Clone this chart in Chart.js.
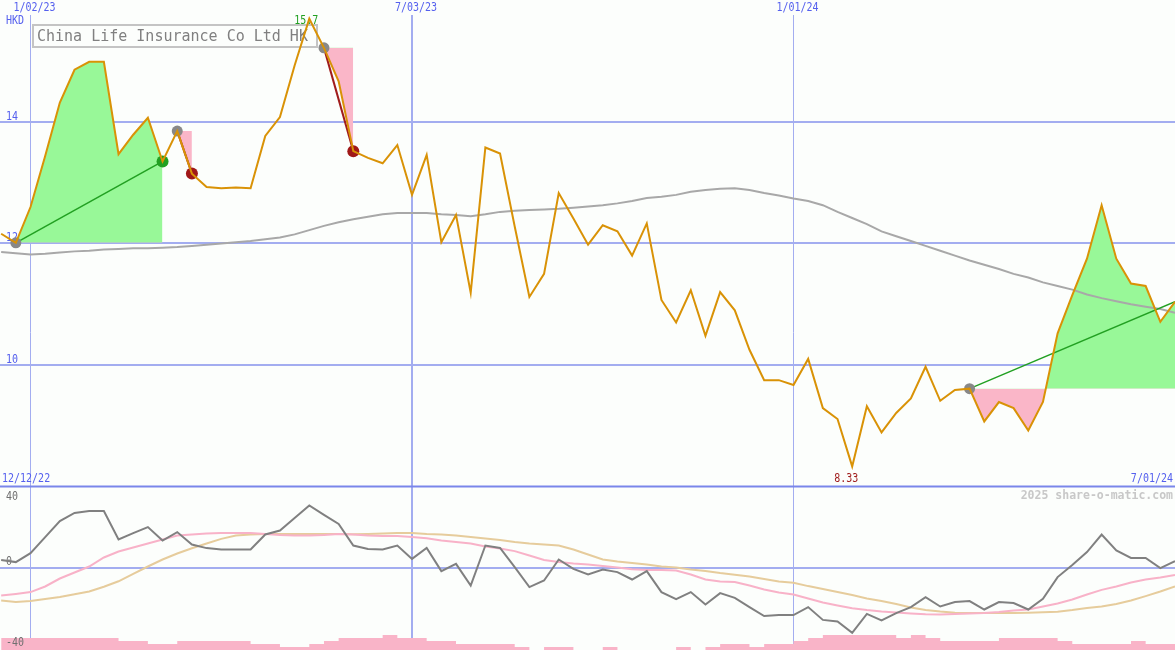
<!DOCTYPE html>
<html>
<head>
<meta charset="utf-8">
<title>China Life Insurance Co Ltd HK</title>
<script src="https://cdn.jsdelivr.net/npm/chart.js@4.4.0/dist/chart.umd.min.js"></script>
<style>
  html, body { margin: 0; padding: 0; background: #fcfefc; overflow: hidden; }
  #box { position: relative; width: 1175px; height: 650px; }
</style>
</head>
<body>
<div id="box"><canvas id="myChart" width="1175" height="650"></canvas></div>
<script>
// weekly data, weeks counted from 2 Jan 2023 (first point is week -2)
var firstWeek = -2;

// closing price, HKD
var price = [12.16, 12.01, 12.60, 13.44, 14.32, 14.86, 14.99, 14.99, 13.47, 13.79,
  14.07, 13.35, 13.85, 13.15, 12.93, 12.91, 12.92, 12.91, 13.77, 14.08,
  14.93, 15.70, 15.22, 14.67, 13.52, 13.41, 13.32, 13.62, 12.80, 13.46,
  12.02, 12.47, 11.19, 13.58, 13.48, 12.28, 11.12, 11.50, 12.83, 12.41,
  11.98, 12.30, 12.20, 11.80, 12.33, 11.07, 10.70, 11.23, 10.48, 11.20,
  10.90, 10.25, 9.75, 9.75, 9.67, 10.10, 9.29, 9.11, 8.33, 9.32,
  8.89, 9.21, 9.45, 9.97, 9.41, 9.59, 9.61, 9.07, 9.39, 9.29,
  8.92, 9.39, 10.52, 11.15, 11.75, 12.63, 11.75, 11.34, 11.30, 10.71,
  11.04];

// moving average (grey)
var movAvg = [11.86, 11.84, 11.82, 11.83, 11.85, 11.87, 11.88, 11.90, 11.91, 11.92,
  11.92, 11.93, 11.94, 11.96, 11.98, 12.00, 12.02, 12.04, 12.07, 12.10,
  12.15, 12.22, 12.29, 12.35, 12.40, 12.44, 12.48, 12.50, 12.50, 12.50,
  12.48, 12.47, 12.45, 12.48, 12.52, 12.54, 12.55, 12.56, 12.57, 12.59,
  12.61, 12.63, 12.66, 12.70, 12.75, 12.77, 12.80, 12.85, 12.88, 12.90,
  12.91, 12.88, 12.83, 12.79, 12.74, 12.70, 12.63, 12.52, 12.42, 12.32,
  12.20, 12.12, 12.04, 11.96, 11.88, 11.80, 11.72, 11.65, 11.58, 11.50,
  11.44, 11.36, 11.30, 11.24, 11.16, 11.10, 11.05, 11.00, 10.96, 10.92,
  10.86];

// lower panel: oscillator and its two averages
var osc = [3.8, 2.7, 7.2, 15.2, 23.2, 27.3, 28.2, 28.2, 14, 17.2,
  20.2, 13.5, 17.7, 11.5, 9.7, 9, 9, 9, 16.5, 18.5,
  24.7, 31, 26.3, 21.8, 11, 9.3, 9, 11, 4.3, 9.8,
  -1.8, 1.8, -9, 11, 9.8, 0.2, -9.8, -6.5, 4, -0.7,
  -3.5, -1, -2.3, -6, -1.8, -12.3, -15.8, -12.3, -18.5, -12.8,
  -15.2, -19.8, -24.3, -23.8, -23.8, -19.8, -26.2, -27, -32.7, -23.2,
  -26.5, -22.8, -19.8, -14.8, -19.5, -17.3, -16.8, -21, -17.3, -17.8,
  -21, -15.7, -4.8, 1.3, 7.7, 16.5, 8.5, 4.8, 4.8, -0.3,
  3.2];

var oscFast = [-14, -13.2, -12.3, -9.5, -5.5, -2.5, 0.5, 5, 8, 10,
  12, 14, 16, 16.5, 17, 17.3, 17.3, 17.3, 16.8, 16.2,
  16, 16, 16.2, 16.8, 16.5, 16, 15.8, 15.7, 15.3, 14.6,
  13.5, 12.8, 12, 10.5, 9.5, 8.2, 6, 3.8, 2.8, 2,
  1.5, 0.8, 0, -0.9, -1.2, -1.3, -1.5, -3.5, -6, -7,
  -7.3, -9, -11, -12.5, -13.5, -15.5, -17.5, -19, -20.4, -21.3,
  -22, -22.5, -23, -23.4, -23.5, -23.3, -23, -22.8, -22.3, -21.5,
  -21, -19.5, -18, -16, -13.5, -11.2, -9.5, -7.5, -6, -5,
  -3.7];

var oscSlow = [-16.5, -17.2, -16.8, -15.8, -14.8, -13.4, -12, -9.6, -6.9, -3.2,
  0.5, 4, 7, 9.6, 12, 14.3, 16, 16.5, 16.8, 16.8,
  16.8, 16.8, 16.8, 16.7, 16.6, 16.8, 17, 17.3, 17.3, 16.8,
  16.5, 16, 15.2, 14.5, 13.8, 12.8, 12, 11.5, 11, 9,
  6.5, 4, 3, 2.3, 1.5, 0.5, 0, -1, -1.8, -2.8,
  -3.6, -4.5, -5.8, -7, -7.6, -9.3, -10.8, -12.3, -13.8, -15.5,
  -16.7, -18.3, -20, -21.2, -22, -22.6, -22.8, -22.8, -22.7, -22.7,
  -22.6, -22.4, -22.1, -21.3, -20.3, -19.5, -18.2, -16.5, -14.3, -12,
  -9.5];

// volume (relative steps)
var volume = [5, 4, 4, 4, 4, 4, 4, 4, 4, 3,
  3, 2, 2, 3, 3, 3, 3, 3, 2, 2,
  1, 1, 2, 3, 4, 4, 4, 5, 4, 4,
  3, 3, 2, 2, 2, 2, 1, 0, 1, 1,
  0, 0, 1, 0, 0, 0, 0, 1, 0, 1,
  2, 2, 1, 2, 2, 3, 4, 5, 5, 5,
  5, 5, 4, 5, 4, 3, 3, 3, 3, 4,
  4, 4, 4, 3, 2, 2, 2, 2, 3, 2,
  2];

// tick labels
var dateTickWeeks = [0, 26, 52];
var dateTickLabels = ["1/02/23", "7/03/23", "1/01/24"];
var dateTickWidths = [1, 2, 1];
var priceTicks = [14, 12, 10];
var oscTicks = [40, 0, -40];
var startLabel = "12/12/22";
var endLabel = "7/01/24";
var title = "China Life Insurance Co Ltd HK";
var currency = "HKD";
var footer = "2025 share-o-matic.com";

// trade signals (week of entry, week of exit)
var signalStart = [-1, 10, 20, 64];
var signalEnd = [9, 11, 22, 78];

var green = "#98f898";
var pink = "#fab6c8";
var gridBlue = "#a3adf0";
var textBlue = "#5560ee";
var font = "'DejaVu Sans Mono', monospace";

function series(arr) {
  return arr.map(function(v, i) {
    return { x: firstWeek + i, y: v };
  });
}
function valueAt(arr, week) {
  return arr[week - firstWeek];
}

var priceData = series(price);
var datasets = [];

datasets.push({
  label: "volume",
  data: series(volume),
  yAxisID: "yv",
  stepped: "after",
  borderWidth: 0,
  pointRadius: 0,
  backgroundColor: "#f9b4c8",
  fill: "origin",
  order: 20
});
datasets.push({ label: "slow", data: series(oscSlow), yAxisID: "yo", borderColor: "#e6cc9c", borderWidth: 2, pointRadius: 0, fill: false, order: 16 });
datasets.push({ label: "fast", data: series(oscFast), yAxisID: "yo", borderColor: "#f8b2c8", borderWidth: 2, pointRadius: 0, fill: false, order: 15 });
datasets.push({ label: "osc", data: series(osc), yAxisID: "yo", borderColor: "#808080", borderWidth: 2, pointRadius: 0, fill: false, order: 14 });

var lastWeek = firstWeek + price.length - 1;
for (var s = 0; s < signalStart.length; s++) {
  var a = signalStart[s];
  var b = signalEnd[s];
  var base = valueAt(price, a);
  var up = valueAt(price, b) >= base;
  // shaded area against entry level
  datasets.push({
    label: "area" + s,
    data: priceData.slice(a - firstWeek, b - firstWeek + 1),
    yAxisID: "y",
    borderWidth: 0,
    pointRadius: 0,
    fill: { target: { value: base }, above: green, below: pink },
    order: 12
  });
  // entry -> exit line
  datasets.push({
    label: "trend" + s,
    data: [{ x: a, y: base }, { x: b, y: valueAt(price, b) }],
    yAxisID: "y",
    borderColor: up ? "#22a022" : "#a01c1c",
    borderWidth: up ? 1.5 : 2,
    pointRadius: 0,
    fill: false,
    order: 9
  });
  datasets.push({
    label: "entry" + s,
    data: [{ x: a, y: base }],
    yAxisID: "y",
    showLine: false,
    pointRadius: 5.5,
    pointBorderWidth: 0,
    pointBackgroundColor: "#888888",
    order: 8
  });
  if (b < lastWeek) {
    datasets.push({
      label: "exit" + s,
      data: [{ x: b, y: valueAt(price, b) }],
      yAxisID: "y",
      showLine: false,
      pointRadius: 6,
      pointBorderWidth: 0,
      pointBackgroundColor: up ? "#22a022" : "#a01818",
      order: 8
    });
  }
}

datasets.push({ label: "avg", data: series(movAvg), yAxisID: "y", borderColor: "#a8a8a8", borderWidth: 2, pointRadius: 0, fill: false, order: 11 });
datasets.push({ label: "price", data: priceData, yAxisID: "y", borderColor: "#d99206", borderWidth: 2, pointRadius: 0, fill: false, order: 5 });

// small labels, a bit taller than the plain font
function label(ctx, txt, x, y) {
  ctx.save();
  ctx.translate(x, y);
  ctx.scale(1, 1.2);
  ctx.fillText(txt, 0, 0);
  ctx.restore();
}

// grid, labels and title box, drawn under the lines
var backdrop = {
  id: "backdrop",
  beforeDatasetsDraw: function(chart) {
    var ctx = chart.ctx;
    var xs = chart.scales.x;
    var ys = chart.scales.y;
    var yo = chart.scales.yo;
    var W = chart.width;
    var H = chart.height;
    ctx.save();

    // horizontal grid
    ctx.strokeStyle = gridBlue;
    ctx.lineWidth = 2;
    priceTicks.forEach(function(t) {
      var y = Math.round(ys.getPixelForValue(t));
      ctx.beginPath(); ctx.moveTo(0, y); ctx.lineTo(W, y); ctx.stroke();
    });
    var y0 = Math.round(yo.getPixelForValue(0));
    ctx.beginPath(); ctx.moveTo(0, y0); ctx.lineTo(W, y0); ctx.stroke();

    // vertical grid
    dateTickWeeks.forEach(function(w, k) {
      var x = xs.getPixelForValue(w);
      ctx.lineWidth = dateTickWidths[k];
      ctx.beginPath(); ctx.moveTo(x, 15); ctx.lineTo(x, H); ctx.stroke();
    });

    // panel separator
    var sep = ys.getPixelForValue(8);
    ctx.strokeStyle = "#7a86ea";
    ctx.lineWidth = 2;
    ctx.beginPath(); ctx.moveTo(0, sep); ctx.lineTo(W, sep); ctx.stroke();

    ctx.font = "10px " + font;
    ctx.textBaseline = "middle";

    // date labels
    ctx.fillStyle = textBlue;
    ctx.textAlign = "center";
    dateTickWeeks.forEach(function(w, k) {
      label(ctx, dateTickLabels[k], xs.getPixelForValue(w) + 4, 8);
    });
    ctx.textAlign = "left";
    label(ctx, currency, 6, 21);
    priceTicks.forEach(function(t) {
      label(ctx, String(t), 6, ys.getPixelForValue(t) - 5.5);
    });
    label(ctx, startLabel, 2, sep - 8);
    ctx.textAlign = "right";
    label(ctx, endLabel, W - 2, sep - 8);

    // high / low
    var hi = Math.max.apply(null, price);
    var lo = Math.min.apply(null, price);
    var hiWeek = firstWeek + price.indexOf(hi);
    var loWeek = firstWeek + price.indexOf(lo);
    ctx.textAlign = "center";
    ctx.fillStyle = "#22a022";
    label(ctx, hi.toFixed(1), xs.getPixelForValue(hiWeek) - 3, 21);
    ctx.fillStyle = "#a01c1c";
    label(ctx, lo.toFixed(2), xs.getPixelForValue(loWeek) - 6, sep - 8);

    // footer
    ctx.textAlign = "right";
    ctx.fillStyle = "#c8c8c8";
    ctx.font = "bold 11.5px " + font;
    ctx.fillText(footer, W - 2, sep + 10);

    // title box
    ctx.fillStyle = "#fcfefc";
    ctx.fillRect(33, 25, 284, 22);
    ctx.strokeStyle = "#c4c4c4";
    ctx.lineWidth = 2;
    ctx.strokeRect(33, 25, 284, 22);
    ctx.fillStyle = "#808080";
    ctx.textAlign = "left";
    ctx.font = "15px " + font;
    ctx.fillText(title, 37, 37);

    ctx.restore();
  },
  // oscillator labels sit on top of the volume steps but under the lines
  afterDatasetDraw: function(chart, args) {
    if (args.index !== 0) return;
    var ctx = chart.ctx;
    var yo = chart.scales.yo;
    ctx.save();
    ctx.font = "10px " + font;
    ctx.textBaseline = "middle";
    ctx.textAlign = "left";
    ctx.fillStyle = "#707070";
    oscTicks.forEach(function(t) {
      var y = yo.getPixelForValue(t);
      if (t > 0) y += 9;
      if (t < 0) y -= 5;
      if (t == 0) y -= 5.5;
      label(ctx, String(t), 6, y);
    });
    ctx.restore();
  }
};

var ctx = document.getElementById("myChart").getContext("2d");
var chart = new Chart(ctx, {
  type: "line",
  data: { datasets: datasets },
  options: {
    responsive: false,
    animation: false,
    devicePixelRatio: 1,
    layout: { padding: 0, autoPadding: false },
    plugins: { legend: { display: false }, tooltip: { enabled: false } },
    scales: {
      // 14.67 px per week, week 0 at x=30.5
      x: { type: "linear", display: false, min: -2.079, max: 78.0 },
      // 60.75 px per HKD, 14 at y=122
      y: { type: "linear", display: false, min: 5.308, max: 16.008 },
      // 2 px per unit, 0 at y=567.5
      yo: { type: "linear", display: false, min: -41.25, max: 283.75 },
      // 3 px per volume step
      yv: { type: "linear", display: false, min: 0, max: 216.67 }
    }
  },
  plugins: [backdrop]
});
</script>
</body>
</html>
